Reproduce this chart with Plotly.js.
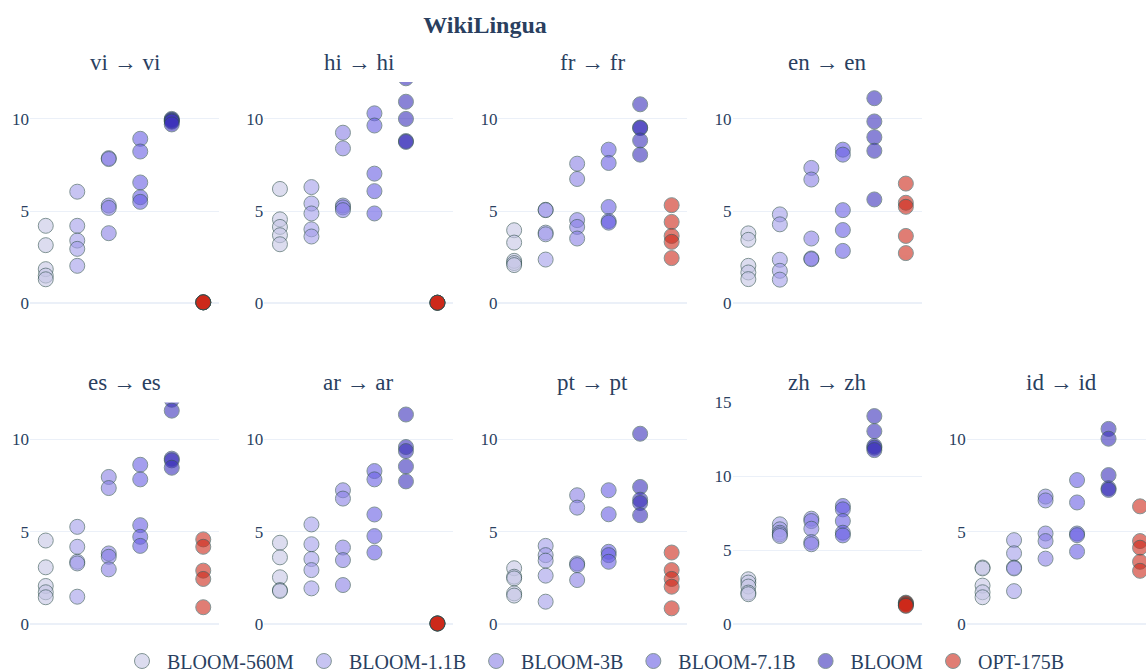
<!DOCTYPE html>
<html>
<head>
<meta charset="utf-8">
<script src="https://cdn.plot.ly/plotly-3.0.1.min.js"></script>
<style>
html, body { margin: 0; padding: 0; overflow: hidden; background: #fff; }
#chart { width: 1200px; height: 672px; }
</style>
</head>
<body>
<div id="chart"></div>
<script>
// Models (x categories / legend)
const models = ["BLOOM-560M", "BLOOM-1.1B", "BLOOM-3B", "BLOOM-7.1B", "BLOOM", "OPT-175B"];
const modelColors = ["#c6c6e6", "#a39deb", "#8980e6", "#695fe3", "#3c32bb", "#cd2819"];

// Panels (language pairs), in display order
const panels = ["vi → vi", "hi → hi", "fr → fr", "en → en", "es → es", "ar → ar", "pt → pt", "zh → zh", "id → id"];

// Values per panel: one list per model, in models order
const vi_vi = [
  [4.2, 3.15, 1.85, 1.5, 1.3],
  [6.05, 4.2, 3.4, 2.95, 2.03],
  [7.87, 7.82, 5.3, 5.17, 3.8],
  [8.92, 8.23, 6.55, 5.75, 5.5],
  [10.0, 9.95, 9.9, 9.85, 9.7],
  [0.05, 0.05, 0.05, 0.05, 0.05]
];
const hi_hi = [
  [6.2, 4.55, 4.14, 3.69, 3.2],
  [6.3, 5.41, 4.87, 4.01, 3.62],
  [9.25, 8.4, 5.3, 5.2, 5.05],
  [10.3, 9.64, 7.03, 6.08, 4.87],
  [12.2, 10.93, 10.0, 8.8, 8.75],
  [0.03, 0.03, 0.03, 0.03, 0.03]
];
const fr_fr = [
  [3.96, 3.29, 2.3, 2.18, 2.07],
  [5.07, 5.05, 3.83, 3.74, 2.37],
  [7.57, 6.74, 4.51, 4.14, 3.51],
  [8.33, 7.61, 5.22, 4.46, 4.37],
  [10.79, 9.53, 9.5, 8.83, 8.06],
  [5.32, 4.41, 3.65, 3.33, 2.45]
];
const en_en = [
  [3.79, 3.44, 2.03, 1.67, 1.31],
  [4.82, 4.28, 2.36, 1.76, 1.28],
  [7.34, 6.71, 3.51, 2.43, 2.39],
  [8.33, 8.06, 5.05, 3.97, 2.84],
  [11.12, 9.86, 9.01, 8.27, 5.63],
  [6.49, 5.45, 5.23, 3.65, 2.72]
];
const es_es = [
  [4.53, 3.08, 2.07, 1.73, 1.46],
  [5.27, 4.19, 3.38, 3.29, 1.49],
  [7.97, 7.37, 3.83, 3.65, 2.97],
  [8.63, 7.84, 5.36, 4.73, 4.24],
  [12.15, 11.56, 8.96, 8.87, 8.47],
  [4.59, 4.19, 2.9, 2.45, 0.92]
];
const ar_ar = [
  [4.41, 3.62, 2.54, 1.85, 1.8],
  [5.4, 4.33, 3.53, 2.93, 1.94],
  [7.25, 6.8, 4.15, 3.47, 2.12],
  [8.29, 7.84, 5.94, 4.77, 3.88],
  [11.35, 9.59, 9.37, 8.54, 7.73],
  [0.04, 0.04, 0.04, 0.04, 0.04]
];
const pt_pt = [
  [3.03, 2.57, 2.48, 1.67, 1.55],
  [4.24, 3.74, 3.44, 2.63, 1.22],
  [6.98, 6.31, 3.29, 3.2, 2.39],
  [7.25, 5.95, 3.92, 3.74, 3.38],
  [10.31, 7.43, 6.74, 6.56, 5.9],
  [3.88, 2.93, 2.45, 2.03, 0.86]
];
const zh_zh = [
  [3.04, 2.82, 2.55, 2.14, 2.03],
  [6.76, 6.42, 6.19, 6.08, 5.97],
  [7.14, 6.98, 6.46, 5.56, 5.41],
  [8.0, 7.77, 6.98, 6.19, 6.01],
  [14.08, 13.06, 12.05, 11.94, 11.78],
  [1.46, 1.42, 1.35, 1.28, 1.24]
];
const id_id = [
  [3.07, 3.02, 2.09, 1.73, 1.46],
  [4.55, 3.84, 3.07, 3.02, 1.79],
  [6.91, 6.7, 4.91, 4.5, 3.55],
  [7.8, 6.59, 4.91, 4.82, 3.93],
  [10.57, 10.04, 8.07, 7.36, 7.27],
  [6.38, 4.5, 4.14, 3.38, 2.89]
];
const panelData = [vi_vi, hi_hi, fr_fr, en_en, es_es, ar_ar, pt_pt, zh_zh, id_id];
// y-axis upper limits per panel
const yTop = [12, 12, 12, 12, 12, 12, 12, 15, 12];
const yTicks = [[0, 5, 10], [0, 5, 10], [0, 5, 10], [0, 5, 10], [0, 5, 10], [0, 5, 10], [0, 5, 10], [0, 5, 10, 15], [0, 5, 10]];

// ---- layout geometry ----
const W = 1200, H = 672;
const ML = 30, MR = 44, MT = 82, MB = 33;
const PW = W - ML - MR, PH = H - MT - MB;
const colStep = 234.2, colW = 189;
const rowsPx = [[82, 318], [402.5, 639]];
const FONT = "Liberation Serif, Times New Roman, serif";
const FC = "#2a3f5f";

const traces = [];
const layout = {
  width: W, height: H,
  margin: {l: ML, r: MR, t: MT, b: MB, autoexpand: false},
  paper_bgcolor: "#fff", plot_bgcolor: "#fff",
  font: {family: FONT, color: FC, size: 16},
  title: {text: "<b>WikiLingua</b>", x: 485 / W, xanchor: "center", xref: "container",
          y: 1 - 25 / H, yanchor: "middle", yref: "container", font: {family: FONT, size: 24, color: FC}},
  showlegend: true,
  legend: {orientation: "h", x: 0.5, xanchor: "center", y: (H - MB - 661) / PH, yanchor: "middle",
           itemwidth: 40,
           font: {family: FONT, size: 20, color: FC}, bgcolor: "rgba(0,0,0,0)"},
  annotations: []
};

panels.forEach((name, p) => {
  const row = p < 4 ? 0 : 1;
  const col = p < 4 ? p : p - 4;
  const ax = p + 1;
  const xs = ax === 1 ? "" : String(ax);
  const x0 = (col * colStep) / PW, x1 = (col * colStep + colW) / PW;
  const yb = (H - MB - rowsPx[row][1]) / PH, yt = (H - MB - rowsPx[row][0]) / PH;
  const top = yTop[p];
  const bottom = -top / 15;
  layout["xaxis" + xs] = {domain: [x0, Math.min(1, x1)], range: [-0.5, models.length - 0.5],
    showgrid: false, zeroline: false, showticklabels: false, showline: false, anchor: "y" + xs, fixedrange: true};
  layout["yaxis" + xs] = {domain: [yb, yt], range: [bottom, top], anchor: "x" + xs,
    tickvals: yTicks[p], ticktext: yTicks[p].map(String),
    showgrid: true, gridcolor: "#EBF0F8", gridwidth: 1,
    zeroline: true, zerolinecolor: "#EBF0F8", zerolinewidth: 2,
    showline: false, ticks: "", tickfont: {family: FONT, size: 17, color: FC}, fixedrange: true};
  layout.annotations.push({text: name, xref: "paper", yref: "paper",
    x: (x0 + x1) / 2, xanchor: "center",
    y: (H - MB - (row === 0 ? 62 : 382)) / PH, yanchor: "middle",
    showarrow: false, font: {family: FONT, size: 23, color: FC}});
  models.forEach((m, k) => {
    const vals = panelData[p][k];
    traces.push({
      type: "scatter", mode: "markers",
      x: vals.map(() => k), y: vals,
      xaxis: "x" + xs, yaxis: "y" + xs,
      name: m, legendgroup: m, showlegend: p === 0,
      marker: {size: 15, color: modelColors[k], opacity: 0.6,
               line: {color: "darkslategrey", width: 1}},
      hoverinfo: "y+name"
    });
  });
});

Plotly.newPlot("chart", traces, layout, {displayModeBar: false, staticPlot: true});
</script>
</body>
</html>
